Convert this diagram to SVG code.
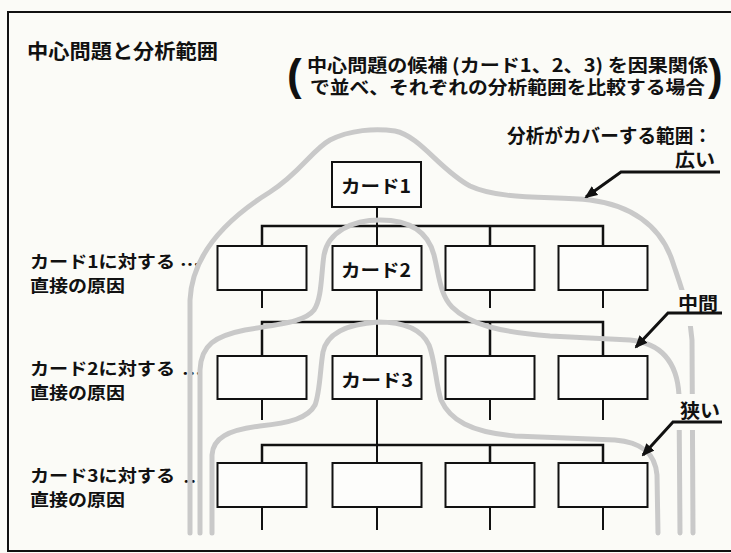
<svg xmlns="http://www.w3.org/2000/svg" width="731" height="553" viewBox="0 0 731 553">
<style>
.t{font-family:"Noto Sans CJK JP","Noto Sans CJK SC",sans-serif;font-weight:bold;fill:#111}
.box{fill:#fdfdfb;stroke:#111;stroke-width:2}
.ln{stroke:#111;stroke-width:2;fill:none}
.bus{stroke:#111;stroke-width:2.5;fill:none}
.rg{stroke:#c9c9c9;stroke-width:5;fill:none;stroke-linecap:round;stroke-linejoin:round}
.ar{stroke:#111;stroke-width:3;fill:none;marker-end:url(#ah)}
.bg{fill:#fbfbf7}
</style>
<defs>
<marker id="ah" markerUnits="userSpaceOnUse" markerWidth="13" markerHeight="11" refX="11" refY="5.5" orient="auto">
<path d="M0,0 L13,5.5 L0,11 z" fill="#111"/>
</marker>
</defs>
<rect x="0" y="0" width="731" height="553" fill="#fbfbf7"/>
<path d="M731,12 L8,12 L8,551 L731,551" fill="none" stroke="#111" stroke-width="2"/>

<text class="t" x="27" y="59" font-size="20" textLength="191" lengthAdjust="spacingAndGlyphs">中心問題と分析範囲</text>

<g id="subtitle">
<text x="287" y="90" font-family="Liberation Sans,sans-serif" font-weight="bold" font-size="44" fill="#111">(</text>
<text class="t" x="307" y="72" font-size="18" textLength="401" lengthAdjust="spacingAndGlyphs">中心問題の候補 (カード1、2、3) を因果関係</text>
<text class="t" x="310" y="94" font-size="18" textLength="395" lengthAdjust="spacingAndGlyphs">で並べ、それぞれの分析範囲を比較する場合</text>
<text x="708" y="90" font-family="Liberation Sans,sans-serif" font-weight="bold" font-size="44" fill="#111">)</text>
</g>

<g id="row-labels">
<text class="t" x="30" y="268" font-size="17" textLength="145" lengthAdjust="spacingAndGlyphs">カード1に対する</text>
<text class="t" x="180" y="271" font-size="17" textLength="20" lengthAdjust="spacingAndGlyphs">…</text>
<text class="t" x="30" y="292" font-size="17" textLength="95" lengthAdjust="spacingAndGlyphs">直接の原因</text>
<text class="t" x="30" y="375" font-size="17" textLength="145" lengthAdjust="spacingAndGlyphs">カード2に対する</text>
<text class="t" x="182" y="380" font-size="17" textLength="20" lengthAdjust="spacingAndGlyphs">…</text>
<text class="t" x="30" y="399" font-size="17" textLength="95" lengthAdjust="spacingAndGlyphs">直接の原因</text>
<text class="t" x="30" y="482" font-size="17" textLength="145" lengthAdjust="spacingAndGlyphs">カード3に対する</text>
<text class="t" x="183" y="488" font-size="17" textLength="20" lengthAdjust="spacingAndGlyphs">…</text>
<text class="t" x="30" y="506" font-size="17" textLength="95" lengthAdjust="spacingAndGlyphs">直接の原因</text>
</g>

<g id="connectors">
<path class="ln" d="M377,207 V462"/>
<path class="bus" d="M262,246 V226 H603 V246 M490,226 V246"/>
<path class="ln" d="M262,290 V308 M490,290 V308 M603,290 V308"/>
<path class="bus" d="M262,356 V322 H603 V356 M490,322 V356"/>
<path class="ln" d="M262,399 V420 M490,399 V420 M603,399 V420"/>
<path class="bus" d="M262,463 V445 H603 V463 M490,445 V463"/>
<path class="ln" d="M262,507 V530 M377,507 V530 M490,507 V530 M603,507 V530"/>
</g>

<g id="ranges">
<path id="range-wide" class="rg" d="M190,533 L190,300 C192,255 225,220 270,192 C300,173 312,150 330,140 C350,130 375,128 395,131 C420,136 440,170 470,186 C500,200 550,196 590,200 C630,205 660,225 672,260 C682,290 690,310 692,340 L693,533"/>
<path id="range-mid" class="rg" d="M200,533 L200,370 C201,345 215,336 245,330 C280,324 305,322 314,310 C322,298 321,275 324,255 C328,232 352,220 380,220 C410,220 428,232 434,255 C439,275 440,295 452,307 C470,325 500,332 550,336 L630,340 C660,343 677,360 679,395 L680,533"/>
<path id="range-narrow" class="rg" d="M212,533 L212,455 C213,438 228,430 260,426 C290,423 308,418 315,405 C320,392 320,370 323,352 C327,333 348,324 378,322 C405,322 422,330 429,345 C435,360 436,385 441,400 C450,420 470,432 515,436 L615,440 C640,442 655,452 657,475 L658,533"/>
</g>

<g id="card1"><rect class="box" x="332" y="162" width="89" height="45"/><text class="t" x="341" y="193" font-size="18" textLength="70" lengthAdjust="spacingAndGlyphs">カード1</text></g>

<g id="r1a"><rect class="box" x="217.5" y="246" width="89" height="44"/></g>
<g id="card2"><rect class="box" x="332.5" y="246" width="89" height="44"/><text class="t" x="341" y="277" font-size="18" textLength="70" lengthAdjust="spacingAndGlyphs">カード2</text></g>
<g id="r1c"><rect class="box" x="445.5" y="246" width="89" height="44"/></g>
<g id="r1d"><rect class="box" x="558.5" y="246" width="89" height="44"/></g>

<g id="r2a"><rect class="box" x="217.5" y="356" width="89" height="43"/></g>
<g id="card3"><rect class="box" x="332.5" y="356" width="89" height="43"/><text class="t" x="341" y="387" font-size="18" textLength="72" lengthAdjust="spacingAndGlyphs">カード3</text></g>
<g id="r2c"><rect class="box" x="445.5" y="356" width="89" height="43"/></g>
<g id="r2d"><rect class="box" x="558.5" y="356" width="89" height="43"/></g>

<g id="r3a"><rect class="box" x="217.5" y="463" width="89" height="44"/></g>
<g id="r3b"><rect class="box" x="332.5" y="463" width="89" height="44"/></g>
<g id="r3c"><rect class="box" x="445.5" y="463" width="89" height="44"/></g>
<g id="r3d"><rect class="box" x="558.5" y="463" width="89" height="44"/></g>

<g id="range-labels">
<text class="t" x="507" y="143" font-size="19" textLength="205" lengthAdjust="spacingAndGlyphs">分析がカバーする範囲：</text>
<text class="t" x="675" y="167" font-size="19" textLength="40" lengthAdjust="spacingAndGlyphs">広い</text>
<rect class="bg" x="672" y="290" width="52" height="36"/>
<text class="t" x="678" y="310" font-size="18" textLength="40" lengthAdjust="spacingAndGlyphs">中間</text>
<rect class="bg" x="672" y="394" width="52" height="36"/>
<text class="t" x="680" y="418" font-size="19" textLength="40" lengthAdjust="spacingAndGlyphs">狭い</text>
</g>

<g id="arrows">
<polyline class="ar" points="720,172 621,172 586,197"/>
<polyline class="ar" points="722,313 668,313 636,347"/>
<polyline class="ar" points="722,422 673,422 643,455"/>
</g>
</svg>
